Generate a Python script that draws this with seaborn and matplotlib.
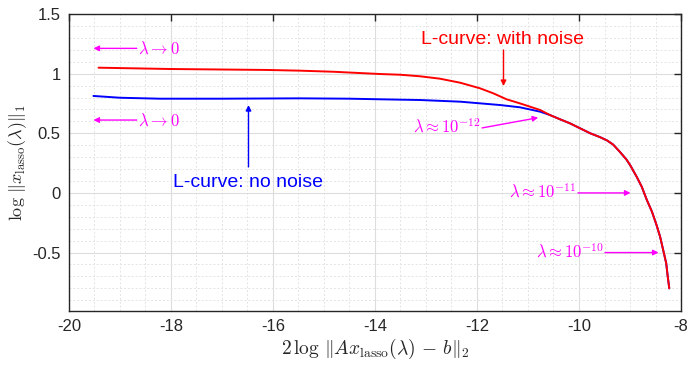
import numpy as np
import pandas as pd
import matplotlib
matplotlib.use("Agg")
import matplotlib.pyplot as plt
import seaborn as sns
from matplotlib.ticker import MultipleLocator

# ---- data ----
red_x = [-19.42, -18.02, -16.12, -15.47, -14.82, -13.90, -13.51, -13.12, -12.73, -12.33,
         -11.94, -11.68, -11.42, -11.16, -10.76, -10.57, -10.37, -10.18, -9.78, -9.59,
         -9.45, -9.33, -9.20, -9.07, -9.00, -8.87, -8.77, -8.67, -8.57, -8.48, -8.41, -8.35,
         -8.29, -8.26, -8.23]
red_y = [1.05, 1.039, 1.031, 1.025, 1.016, 0.997, 0.991, 0.978, 0.958, 0.924,
         0.877, 0.835, 0.785, 0.751, 0.695, 0.653, 0.617, 0.584, 0.50, 0.468,
         0.44, 0.405, 0.345, 0.28, 0.235, 0.136, 0.052, -0.059, -0.157, -0.269, -0.367, -0.478,
         -0.590, -0.702, -0.80]
blue_x = [-19.52, -19.0, -18.22, -17.0, -16.0, -15.47, -14.5, -13.90, -13.12, -12.33,
          -11.55, -11.16, -10.76, -10.57, -10.37, -10.18, -9.78, -9.59, -9.45, -9.33,
          -9.20, -9.07, -9.00, -8.87, -8.77, -8.67, -8.57, -8.48, -8.41, -8.35,
          -8.29, -8.26, -8.23]
blue_y = [0.813, 0.798, 0.790, 0.790, 0.792, 0.793, 0.790, 0.785, 0.779, 0.765,
          0.737, 0.718, 0.681, 0.653, 0.617, 0.584, 0.50, 0.468, 0.44, 0.405,
          0.345, 0.28, 0.235, 0.136, 0.052, -0.059, -0.157, -0.269, -0.367, -0.478,
          -0.590, -0.702, -0.80]

xticks = [-20, -18, -16, -14, -12, -10, -8]
yticks = [-0.5, 0, 0.5, 1, 1.5]
ytick_labels = ["-0.5", "0", "0.5", "1", "1.5"]

df_red = pd.DataFrame({"x": red_x, "y": red_y})
df_blue = pd.DataFrame({"x": blue_x, "y": blue_y})

sns.set_style("white")
plt.rcParams["font.family"] = ["Liberation Sans", "DejaVu Sans"]
plt.rcParams["mathtext.fontset"] = "cm"

fig = plt.figure(figsize=(6.89, 3.66), dpi=100)
ax = fig.add_axes([0.1001, 0.1503, 0.8883, 0.8114])

sns.lineplot(data=df_blue, x="x", y="y", ax=ax, color="#0000FF", lw=1.4, sort=False, estimator=None)
sns.lineplot(data=df_red, x="x", y="y", ax=ax, color="#FF0000", lw=1.4, sort=False, estimator=None)
for l in ax.get_lines():
    l.set_solid_joinstyle("round")

ax.set_xlim(-20, -8)
ax.set_ylim(-0.99, 1.5)
ax.set_xticks(xticks)
ax.set_xticklabels([str(t) for t in xticks])
ax.set_yticks(yticks)
ax.set_yticklabels(ytick_labels)
ax.xaxis.set_minor_locator(MultipleLocator(0.5))
ax.yaxis.set_minor_locator(MultipleLocator(0.1))
ax.grid(which="major", color="#DDDDDD", lw=0.8, ls="-")
ax.grid(which="minor", color="#E4E4E4", lw=0.7, ls=(0, (2, 2)))
ax.set_axisbelow(True)
ax.tick_params(which="major", direction="in", length=5, width=1.0, colors="#262626",
               labelsize=12, top=True, right=True, pad=6)
ax.tick_params(which="minor", length=0)
for s in ax.spines.values():
    s.set_color("#262626")
    s.set_linewidth(1.0)
    s.set_visible(True)

ax.set_xlabel(r"$2\,\log\,\|Ax_{\rm lasso}(\lambda)\,-\,b\|_2$", fontsize=14, labelpad=2)
ax.set_ylabel(r"$\log\,\|x_{\rm lasso}(\lambda)\|_1$", fontsize=13, labelpad=2)

mag = "#FF00FF"
arr = dict(arrowstyle="-|>", color=mag, lw=1.0, mutation_scale=8, shrinkA=0, shrinkB=0)
for yv in [1.212, 0.611]:
    ax.annotate("", xy=(-19.52, yv), xytext=(-18.67, yv), arrowprops=arr)
    ax.text(-18.65, yv, r"$\lambda\rightarrow 0$", color=mag, fontsize=12, va="center", ha="left")

ax.annotate("", xy=(-10.80, 0.631), xytext=(-11.90, 0.545), arrowprops=arr)
ax.text(-11.92, 0.555, r"$\lambda\approx 10^{-12}$", color=mag, fontsize=12, va="center", ha="right")
ax.annotate("", xy=(-8.99, 0.0), xytext=(-10.02, 0.0), arrowprops=arr)
ax.text(-10.04, 0.01, r"$\lambda\approx 10^{-11}$", color=mag, fontsize=12, va="center", ha="right")
ax.annotate("", xy=(-8.44, -0.5), xytext=(-9.49, -0.5), arrowprops=arr)
ax.text(-9.51, -0.49, r"$\lambda\approx 10^{-10}$", color=mag, fontsize=12, va="center", ha="right")

arr_b = dict(arrowstyle="-|>", color="#0000FF", lw=1.0, mutation_scale=8, shrinkA=0, shrinkB=0)
ax.annotate("", xy=(-16.48, 0.737), xytext=(-16.48, 0.218), arrowprops=arr_b)
ax.text(-16.49, 0.087, "L-curve: no noise", color="#0000FF", fontsize=14, va="center", ha="center")

arr_r = dict(arrowstyle="-|>", color="#FF0000", lw=1.0, mutation_scale=8, shrinkA=0, shrinkB=0)
ax.annotate("", xy=(-11.48, 0.896), xytext=(-11.48, 1.198), arrowprops=arr_r)
ax.text(-11.50, 1.29, "L-curve: with noise", color="#FF0000", fontsize=14, va="center", ha="center")

fig.savefig("out.png", dpi=100)
